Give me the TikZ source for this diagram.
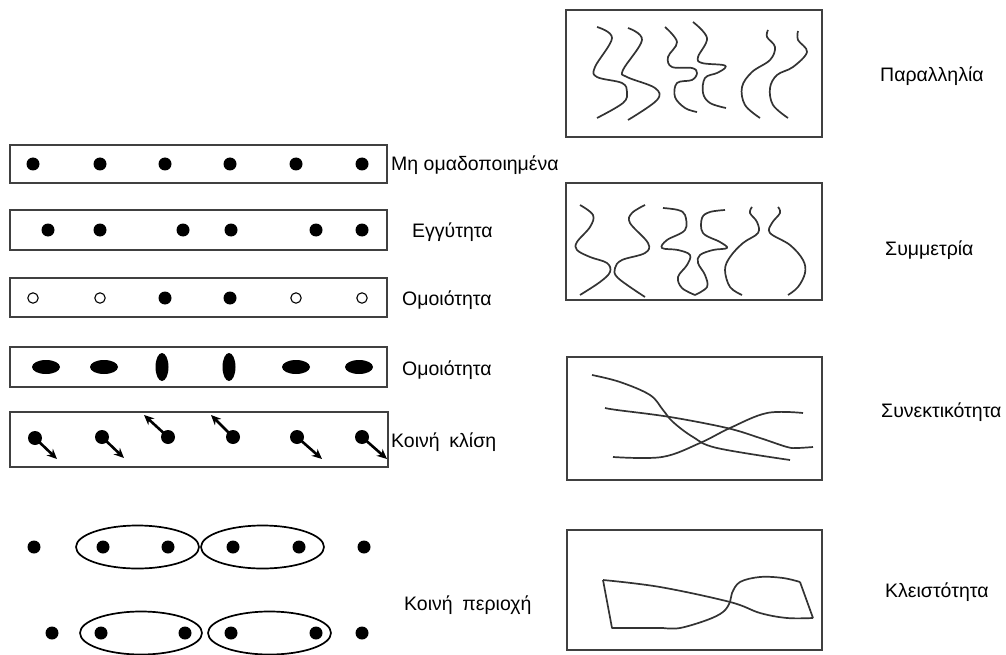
\documentclass[tikz,border=0pt]{standalone}
\usepackage{fontspec}
\setmainfont{Liberation Sans}
\usetikzlibrary{arrows.meta}
\begin{document}
\begin{tikzpicture}[x=1pt,y=-1pt,
  frame/.style={draw=black!75,line width=1.8pt},
  crv/.style={draw=black!80,line width=1.7pt,smooth,tension=0.6,line join=round},
  dot/.style={fill=black},
  odot/.style={draw=black,line width=1.1pt,fill=white},
  lbl/.style={font=\fontsize{19.5}{22}\selectfont,anchor=west,inner sep=0pt},
  grp/.style={draw=black,line width=1.7pt},
  arr/.style={line width=2.6pt,-{Stealth[length=10pt,width=9pt]}}]
\useasboundingbox (0,0) rectangle (1006,655);
% ---- left rows ----
\draw[frame] (10,145) rectangle (387,183);
\foreach \x in {33,100,165,230,296,362} \fill[dot] (\x,164) circle (6.5);
\node[lbl] (t1) at (391,165) {Μη ομαδοποιημένα};

\draw[frame] (10,210) rectangle (387,250);
\foreach \x in {48,100,183,231,316,362} \fill[dot] (\x,230) circle (6.5);
\node[lbl] (t2) at (412,232) {Εγγύτητα};

\draw[frame] (10,278) rectangle (387,317);
\foreach \x in {33,100,296,362} \draw[odot] (\x,298) circle (5.2);
\foreach \x in {165,230} \fill[dot] (\x,298) circle (6.5);
\node[lbl] (t3) at (402,300) {Ομοιότητα};

\draw[frame] (10,347) rectangle (387,387);
\foreach \x in {46,104,296,359} \fill[dot] (\x,367) ellipse (14 and 7);
\foreach \x in {162,229} \fill[dot] (\x,367) ellipse (6.5 and 14);
\node[lbl] (t4) at (402,370) {Ομοιότητα};

\draw[frame] (10,412) rectangle (388,467);
\foreach \x/\y/\tx/\ty in {35/438/57/459, 102/437/124/458, 297/437/322/459, 362/437/387/459}
  {\fill[dot] (\x,\y) circle (7); \draw[arr] (\x,\y) -- (\tx,\ty);}
\foreach \x/\y/\tx/\ty in {168/437/144/415, 233/437/211/415}
  {\fill[dot] (\x,\y) circle (7); \draw[arr] (\x,\y) -- (\tx,\ty);}
\node[lbl] (t5) at (391,442) {Κοινή\enspace κλίση};

% proximity / common region
\foreach \x in {34,103,168,233,299,364} \fill[dot] (\x,547) circle (6.5);
\draw[grp] (137.5,547) ellipse (61.5 and 21.5);
\draw[grp] (262.5,547) ellipse (61.5 and 21.5);
\foreach \x in {52,101,185,231,316,362} \fill[dot] (\x,633) circle (6.5);
\draw[grp] (141,633) ellipse (61 and 21.5);
\draw[grp] (269.5,633) ellipse (61.5 and 21.5);
\node[lbl] (t6) at (404,605) {Κοινή\enspace περιοχή};

% ---- right boxes ----
\draw[frame] (566,10) rectangle (822,137);
\draw[crv] plot coordinates {(597,27) (612,38) (595,67) (597,77) (622,83) (627,92) (623,103) (597,118)};
\draw[crv] plot coordinates {(628,28) (642,40) (623,70) (627,77) (655,88) (657,100) (628,120)};
\draw[crv] plot coordinates {(665,27) (677,42) (668,57) (672,67) (692,68) (697,73) (692,80) (677,83) (675,97) (685,108) (697,112)};
\draw[crv] plot coordinates {(693,22) (707,38) (698,57) (702,63) (723,65) (725,68) (717,73) (705,78) (703,93) (710,103) (726,108)};
\draw[crv] plot coordinates {(768,30) (767,37) (775,47) (770,60) (752,72) (742,87) (745,105) (760,118)};
\draw[crv] plot coordinates {(798,31) (798,40) (807,52) (793,67) (777,75) (770,88) (773,105) (788,118)};
\node[lbl] (r1) at (880,76) {Παραλληλία};

\draw[frame] (566,183) rectangle (822,300);
\draw[crv] plot coordinates {(580,205) (593,215) (590,227) (577,242) (577,250) (590,257) (607,263) (610,272) (600,282) (580,295)};
\draw[crv] plot coordinates {(645,205) (632,213) (630,223) (648,243) (645,253) (622,260) (615,268) (618,278) (645,297)};
\draw[crv] plot coordinates {(663,208) (678,210) (685,215) (685,230) (667,240) (662,248) (678,250) (690,255) (687,265) (678,277) (682,288) (695,295)};
\draw[crv] plot coordinates {(725,210) (710,212) (702,218) (703,233) (720,242) (727,248) (713,250) (700,255) (698,263) (705,275) (707,287) (695,295)};
\draw[crv] plot coordinates {(752,207) (750,213) (757,222) (758,233) (743,243) (730,257) (725,270) (730,287) (742,295)};
\draw[crv] plot coordinates {(778,207) (780,213) (772,223) (770,233) (790,245) (803,260) (805,273) (798,287) (788,295)};
\node[lbl] (r2) at (885,250) {Συμμετρία};

\draw[frame] (567,357) rectangle (822,480);
\draw[crv] plot coordinates {(592,375) (620,382) (650,395) (663,410) (673,422) (693,437) (717,448) (790,460)};
\draw[crv] plot coordinates {(605,408) (617,410) (670,417) (727,428) (760,438) (787,447) (797,448) (813,447)};
\draw[crv] plot coordinates {(613,457) (662,457) (700,443) (730,428) (767,413) (803,413)};
\node[lbl] (r3) at (881,412) {Συνεκτικότητα};

\draw[frame] (567,530) rectangle (822,650);
\draw[crv] plot coordinates {(603,580) (660,587) (730,602) (760,613) (787,618) (813,618)};
\draw[crv] (813,618) -- (800,582);
\draw[crv] plot coordinates {(800,582) (783,578) (760,577) (740,582) (732,593) (730,602) (723,612) (707,620) (680,628) (663,628)};
\draw[crv] (663,628) -- (612,628) -- (603,580);
\node[lbl] (r4) at (885,592) {Κλειστότητα};
\end{tikzpicture}
\end{document}
